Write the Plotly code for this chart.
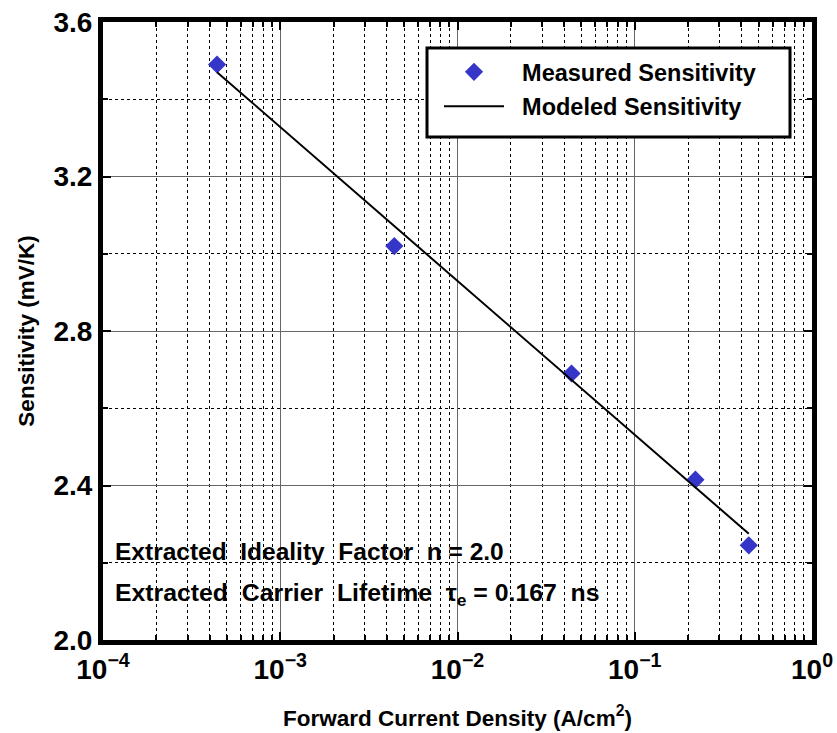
import plotly.graph_objects as go

# ---- data ----
current_density = [4.4e-4, 4.4e-3, 4.4e-2, 0.22, 0.44]
measured_sensitivity = [3.49, 3.02, 2.69, 2.415, 2.245]
model_current = [4.4e-4, 0.44]
model_sensitivity = [3.47, 2.275]

x_tickvals = [1e-4, 1e-3, 1e-2, 1e-1, 1]
x_ticktext = ["10<sup>−4</sup>", "10<sup>−3</sup>", "10<sup>−2</sup>", "10<sup>−1</sup>", "10<sup>0</sup>"]
x_minor = [m * 10.0 ** e for e in range(-4, 0) for m in range(2, 10)]
y_tickvals = [2.0, 2.4, 2.8, 3.2, 3.6]
y_ticktext = ["2.0", "2.4", "2.8", "3.2", "3.6"]
y_minor = [2.2, 2.6, 3.0, 3.4]

FONT = "Liberation Sans, Arial, Helvetica, sans-serif"

fig = go.Figure()
fig.add_trace(go.Scatter(
    x=current_density, y=measured_sensitivity, mode="markers",
    name="\u00a0\u00a0Measured Sensitivity", legendgroup="a",
    marker=dict(symbol="diamond", size=14, color="#3535C8"),
))
fig.add_trace(go.Scatter(
    x=model_current, y=model_sensitivity, mode="lines",
    name="\u00a0\u00a0Modeled Sensitivity", legendgroup="b",
    line=dict(color="black", width=2),
))

L, R, T, B = 103, 25, 22, 93
W, H = 837, 733
pw, ph = W - L - R, H - T - B

def px(xp):
    return (xp - L) / pw

def py(yp):
    return (H - B - yp) / ph

axis_common = dict(
    showline=True, linecolor="black", linewidth=5, mirror="ticks",
    ticks="inside", ticklen=8, tickwidth=2, tickcolor="black",
    showgrid=True, gridcolor="#666666", gridwidth=1,
    zeroline=False, automargin=False,
    tickfont=dict(family=FONT, size=28, color="black", weight="bold"),
)

fig.update_xaxes(
    type="log", range=[-4, 0],
    tickmode="array", tickvals=x_tickvals, ticktext=x_ticktext,
    minor=dict(tickmode="array", tickvals=x_minor, ticks="inside", ticklen=5,
               tickwidth=1.5, tickcolor="black", showgrid=True,
               gridcolor="black", griddash="dot", gridwidth=1),
    title=dict(text="Forward Current Density (A/cm<sup>2</sup>)",
               font=dict(family=FONT, size=22.5, color="black", weight="bold"),
               standoff=28),
    **axis_common,
)
fig.update_yaxes(
    range=[2.0, 3.6],
    tickmode="array", tickvals=y_tickvals, ticktext=y_ticktext,
    minor=dict(tickmode="array", tickvals=y_minor, ticks="inside", ticklen=5,
               tickwidth=1.5, tickcolor="black", showgrid=True,
               gridcolor="black", griddash="dot", gridwidth=1),
    title=dict(text="Sensitivity (mV/K)",
               font=dict(family=FONT, size=22.5, color="black", weight="bold"),
               standoff=14),
    **axis_common,
)

fig.add_shape(type="rect", xref="paper", yref="paper",
              x0=px(427), x1=px(790), y0=py(137), y1=py(48),
              line=dict(color="black", width=3), fillcolor="white", layer="above")

fig.add_annotation(xref="paper", yref="paper", x=px(113), y=py(551),
                   xanchor="left", yanchor="middle", showarrow=False,
                   text="Extracted  Ideality  Factor  n = 2.0",
                   font=dict(family=FONT, size=24.5, color="black", weight="bold"))
fig.add_annotation(xref="paper", yref="paper", x=px(113), y=py(594),
                   xanchor="left", yanchor="middle", showarrow=False,
                   text="Extracted  Carrier  Lifetime  τ<sub>e</sub> = 0.167  ns",
                   font=dict(family=FONT, size=24.8, color="black", weight="bold"))

fig.update_layout(
    width=W, height=H,
    margin=dict(l=L, r=R, t=T, b=B, autoexpand=False),
    paper_bgcolor="white", plot_bgcolor="white",
    showlegend=True,
    legend=dict(x=px(439), y=py(50), xanchor="left", yanchor="top",
                bgcolor="rgba(0,0,0,0)", borderwidth=0,
                itemwidth=60, tracegroupgap=1,
                font=dict(family=FONT, size=23.5, color="black", weight="bold")),
)

fig.write_html("out.html")
